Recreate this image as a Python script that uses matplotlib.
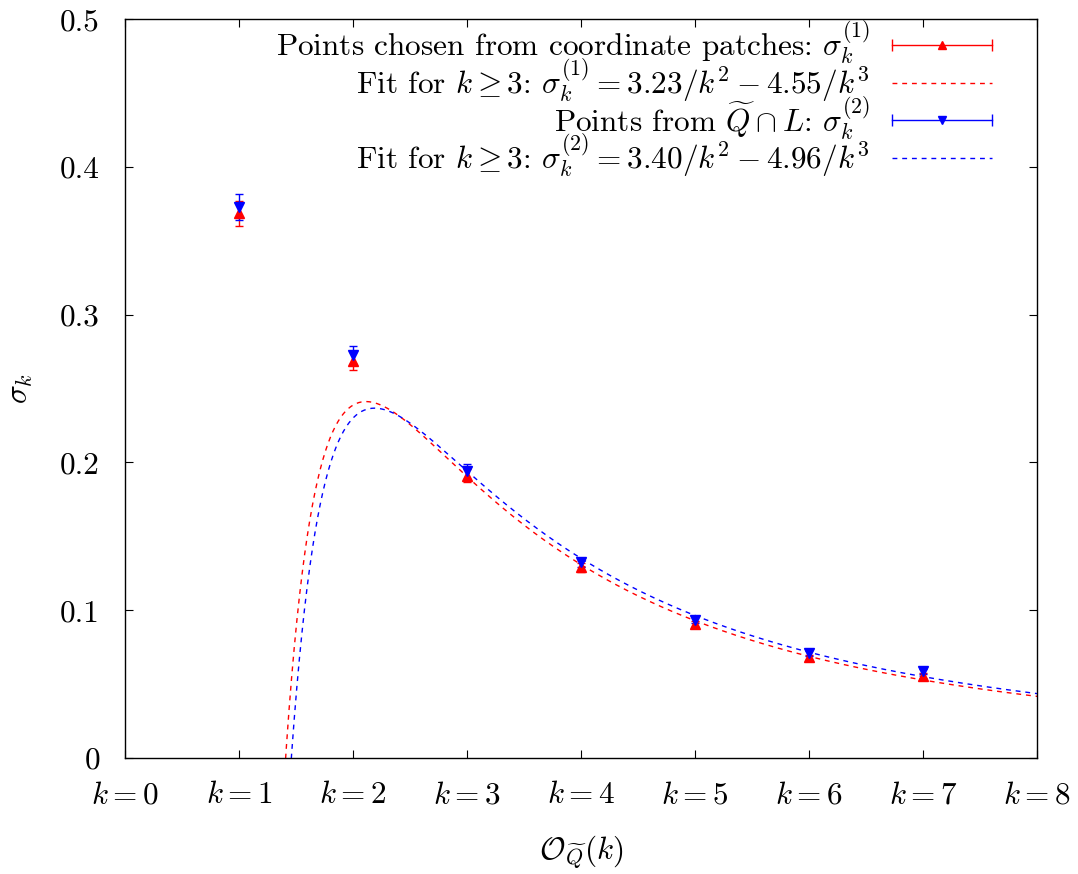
import numpy as np
import matplotlib

matplotlib.use("Agg")
import matplotlib.pyplot as plt
from matplotlib.lines import Line2D
from matplotlib.legend_handler import HandlerLine2D, HandlerTuple

# ------------------------------------------------------------------ data
K = [1, 2, 3, 4, 5, 6, 7]
SIG1 = [0.3686, 0.2684, 0.1910, 0.1289, 0.0906, 0.0680, 0.0556]
ERR1 = [0.0085, 0.0062, 0.0045, 0.0030, 0.0022, 0.0018, 0.0016]
SIG2 = [0.3728, 0.2727, 0.1939, 0.1323, 0.0935, 0.0709, 0.0585]
ERR2 = [0.0086, 0.0064, 0.0050, 0.0030, 0.0022, 0.0018, 0.0016]
FIT1 = [3.23, 4.55]   # sigma = a/k^2 - b/k^3
FIT2 = [3.40, 4.96]

XTICKS = [0, 1, 2, 3, 4, 5, 6, 7, 8]
XTICKLABELS = [f"$k={k}$" for k in XTICKS]
YTICKS = [0, 0.1, 0.2, 0.3, 0.4, 0.5]
YTICKLABELS = ["0", "0.1", "0.2", "0.3", "0.4", "0.5"]

RED, BLUE = "#ff0000", "#0000ff"
FS = 22.5

plt.rcParams.update({
    "font.family": "serif", "font.serif": ["cmr10"],
    "mathtext.fontset": "cm", "axes.formatter.use_mathtext": True,
    "font.size": FS, "axes.linewidth": 1.0,
    "xtick.direction": "in", "ytick.direction": "in",
    "xtick.top": True, "ytick.right": True,
    "xtick.major.size": 6, "ytick.major.size": 6,
    "xtick.major.pad": 17, "ytick.major.pad": 18,
})

fig = plt.figure(figsize=(10.78, 8.74), dpi=100)
ax = fig.add_axes([0.116, 0.133, 0.846, 0.845])


def fit(c, k):
    return c[0] / k**2 - c[1] / k**3


kk = np.linspace(1.2, 8.0, 600)
DASH = (0, (3.5, 3.5))

ax.errorbar(K, SIG1, yerr=ERR1, fmt="^", color=RED, ms=7, elinewidth=1.0,
            capsize=3, capthick=1.0)
ax.plot(kk, fit(FIT1, kk), color=RED, lw=1.0, ls=DASH)
ax.errorbar(K, SIG2, yerr=ERR2, fmt="v", color=BLUE, ms=7, elinewidth=1.0,
            capsize=3, capthick=1.0)
ax.plot(kk, fit(FIT2, kk), color=BLUE, lw=1.0, ls=DASH)

ax.set_xlim(0, 8)
ax.set_ylim(0, 0.5)
ax.set_xticks(XTICKS)
ax.set_xticklabels(XTICKLABELS)
ax.set_yticks(YTICKS)
ax.set_yticklabels(YTICKLABELS)
ax.set_xlabel(r"$\mathcal{O}_{\widetilde{Q}}(k)$", labelpad=18)
ax.set_ylabel(r"$\sigma_k$", labelpad=18)

# gnuplot-style legend: horizontal sample with caps at both ends
def eb_handle(color, marker):
    caps = Line2D([], [], color=color, lw=1.0, marker="|", ms=9, mew=1.0)
    mark = Line2D([], [], color=color, lw=0, marker=marker, ms=6)
    return (caps, mark)


h1 = eb_handle(RED, "^")
h2 = eb_handle(BLUE, "v")
f1 = Line2D([], [], color=RED, lw=1.0, ls=DASH)
f2 = Line2D([], [], color=BLUE, lw=1.0, ls=DASH)
hmap = {h1[0]: HandlerLine2D(numpoints=2, marker_pad=0),
        h1[1]: HandlerLine2D(numpoints=1),
        h2[0]: HandlerLine2D(numpoints=2, marker_pad=0),
        h2[1]: HandlerLine2D(numpoints=1),
        tuple: HandlerTuple(ndivide=1)}
labels = [
    r"Points chosen from coordinate patches: $\sigma_k^{(1)}$",
    f"Fit for $k \\geq 3$: $\\sigma_k^{{(1)}} = {FIT1[0]:.2f}/k^2 - {FIT1[1]:.2f}/k^3$",
    r"Points from $\widetilde{Q} \cap L$: $\sigma_k^{(2)}$",
    f"Fit for $k \\geq 3$: $\\sigma_k^{{(2)}} = {FIT2[0]:.2f}/k^2 - {FIT2[1]:.2f}/k^3$",
]
leg = ax.legend([h1, f1, h2, f2], labels, handler_map=hmap, loc="upper right",
                bbox_to_anchor=(0.964, 1.018), markerfirst=False,
                frameon=False, handlelength=3.2, handletextpad=0.7,
                labelspacing=-0.31, borderaxespad=0.0, fontsize=FS)

fig.savefig("out.png", dpi=100)
